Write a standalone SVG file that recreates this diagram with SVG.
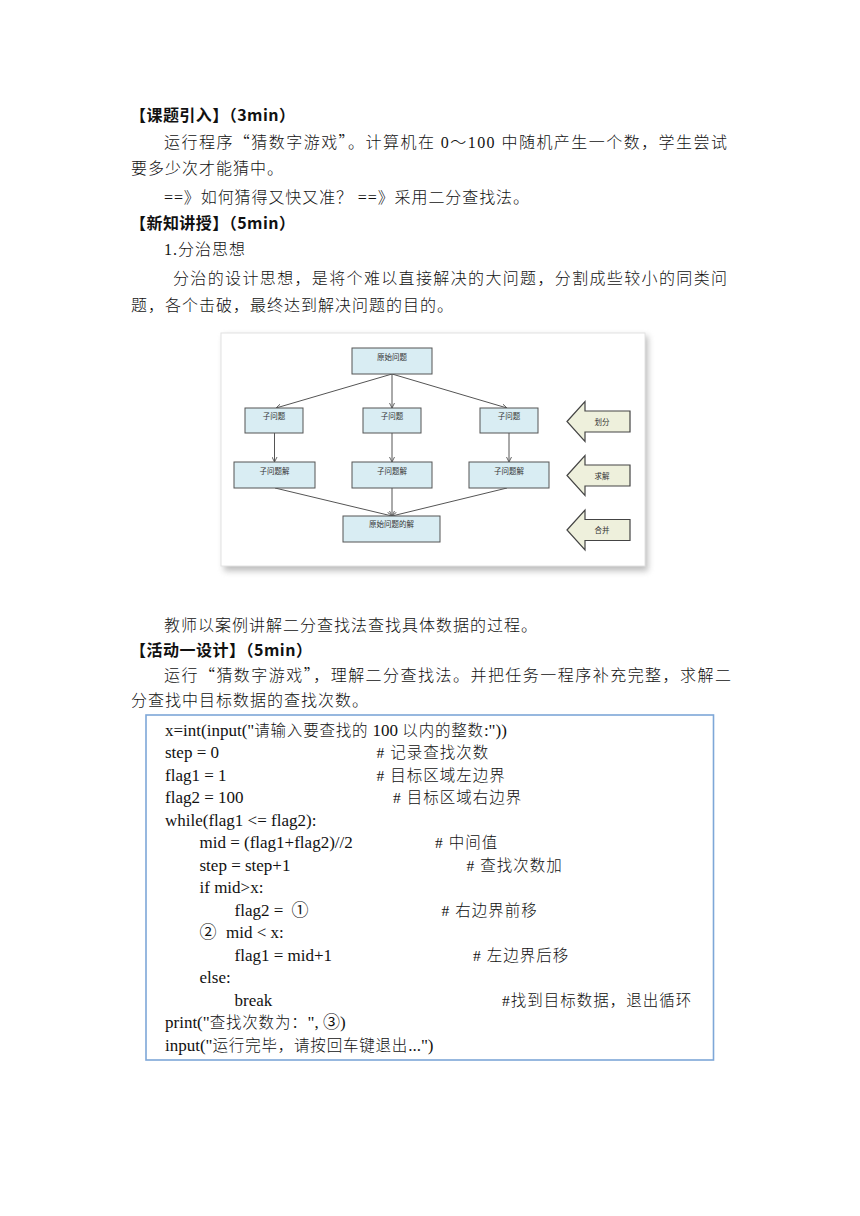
<svg xmlns="http://www.w3.org/2000/svg" width="860" height="1216" viewBox="0 0 860 1216">
<style>
.body{font-family:"Liberation Serif","Noto Sans CJK SC",serif;font-size:16px;font-weight:300;fill:#111;letter-spacing:1px}
.q{font-family:"Noto Sans CJK SC",sans-serif}
.head{font-family:"Noto Sans CJK SC",sans-serif;font-size:16px;font-weight:700;fill:#111}
.code{font-family:"Liberation Serif","Noto Sans CJK SC",serif;font-size:17px;fill:#111}
.cjk{font-size:15.5px;letter-spacing:0.8px;font-weight:300}
.cmt{font-family:"Liberation Serif","Noto Sans CJK SC",serif;font-size:15.5px;font-weight:300;fill:#111;letter-spacing:1px}
.box{fill:#d9edf3;stroke:#555;stroke-width:1}
.lbl{font-family:"Noto Sans CJK SC",sans-serif;font-size:7.5px;fill:#333;text-anchor:middle}
.arr{fill:#eef0dc;stroke:#444;stroke-width:1.2}
.conn{stroke:#555;stroke-width:1;fill:none;marker-end:url(#ah)}
</style>
<defs>
<marker id="ah" viewBox="0 0 8 8" refX="7" refY="4" markerWidth="6" markerHeight="6" orient="auto" markerUnits="userSpaceOnUse">
<path d="M0,0.5 L7,4 L0,7.5" fill="none" stroke="#555" stroke-width="1.2"/>
</marker>
<filter id="sh" x="-10%" y="-10%" width="130%" height="130%">
<feGaussianBlur stdDeviation="3"/>
</filter>
</defs>
<rect width="860" height="1216" fill="#fff"/>

<!-- page text -->
<text class="head" x="130" y="121" textLength="165" lengthAdjust="spacing">【课题引入】（3min）</text>
<text class="body" x="164" y="148" textLength="564" lengthAdjust="spacing">运行程序<tspan class="q">“</tspan>猜数字游戏<tspan class="q">”</tspan>。计算机在 0～100 中随机产生一个数，学生尝试</text>
<text class="body" x="131" y="174">要多少次才能猜中。</text>
<text class="body" x="164" y="203" textLength="366" lengthAdjust="spacing">==》如何猜得又快又准？ ==》采用二分查找法。</text>
<text class="head" x="130" y="229" textLength="165" lengthAdjust="spacing">【新知讲授】（5min）</text>
<text class="body" x="164" y="255">1.分治思想</text>
<text class="body" x="173" y="284" textLength="555" lengthAdjust="spacing">分治的设计思想，是将个难以直接解决的大问题，分割成些较小的同类问</text>
<text class="body" x="131" y="311">题，各个击破，最终达到解决问题的目的。</text>

<!-- divide and conquer figure -->
<g id="figure">
<rect x="224" y="336" width="424" height="235" fill="#888" opacity="0.55" filter="url(#sh)"/>
<rect x="221" y="333" width="424" height="233" fill="#fff" stroke="#e2e2e2" stroke-width="1"/>
</g>
<g id="connectors">
<line class="conn" x1="392" y1="374" x2="276" y2="408"/>
<line class="conn" x1="392" y1="374" x2="392" y2="408"/>
<line class="conn" x1="392" y1="374" x2="507" y2="408"/>
<line class="conn" x1="274.5" y1="433" x2="274.5" y2="462"/>
<line class="conn" x1="392" y1="433" x2="392" y2="462"/>
<line class="conn" x1="509" y1="433" x2="509" y2="462"/>
<line class="conn" x1="275" y1="488" x2="392" y2="516"/>
<line class="conn" x1="392" y1="488" x2="392" y2="516"/>
<line class="conn" x1="507" y1="488" x2="392" y2="516"/>
</g>
<g id="n-root"><rect class="box" x="352" y="348" width="80" height="26"/><text class="lbl" x="392" y="359.5">原始问题</text></g>
<g id="n-sub1"><rect class="box" x="245" y="408" width="58" height="25"/><text class="lbl" x="274" y="418.5">子问题</text></g>
<g id="n-sub2"><rect class="box" x="363" y="408" width="58" height="25"/><text class="lbl" x="392" y="418.5">子问题</text></g>
<g id="n-sub3"><rect class="box" x="480" y="408" width="58" height="25"/><text class="lbl" x="509" y="418.5">子问题</text></g>
<g id="n-sol1"><rect class="box" x="234" y="462" width="81" height="26"/><text class="lbl" x="274.5" y="473.5">子问题解</text></g>
<g id="n-sol2"><rect class="box" x="352" y="462" width="80" height="26"/><text class="lbl" x="392" y="473.5">子问题解</text></g>
<g id="n-sol3"><rect class="box" x="469" y="462" width="80" height="26"/><text class="lbl" x="509" y="473.5">子问题解</text></g>
<g id="n-final"><rect class="box" x="343" y="516" width="97" height="26"/><text class="lbl" x="391.5" y="527">原始问题的解</text></g>
<g id="a-divide"><polygon class="arr" points="567,421.5 585,401.5 585,411 630,411 630,432 585,432 585,441.5"/><text class="lbl" x="602" y="424.5">划分</text></g>
<g id="a-solve"><polygon class="arr" points="567,475.5 585,455.5 585,465 630,465 630,486 585,486 585,495.5"/><text class="lbl" x="602" y="478.5">求解</text></g>
<g id="a-merge"><polygon class="arr" points="567,530 585,510 585,519.5 630,519.5 630,540.5 585,540.5 585,550"/><text class="lbl" x="602" y="533">合并</text></g>

<text class="body" x="164" y="631">教师以案例讲解二分查找法查找具体数据的过程。</text>
<text class="head" x="130" y="656" textLength="182" lengthAdjust="spacing">【活动一设计】（5min）</text>
<text class="body" x="164" y="681" textLength="568" lengthAdjust="spacing">运行<tspan class="q">“</tspan>猜数字游戏<tspan class="q">”</tspan>，理解二分查找法。并把任务一程序补充完整，求解二</text>
<text class="body" x="131" y="706">分查找中目标数据的查找次数。</text>

<!-- code box -->
<g id="code">
<rect x="146" y="715" width="567.5" height="345" fill="#fff" stroke="#7ea7d8" stroke-width="1.6"/>
<text class="code" x="165" y="735.5">x=int(input("<tspan class="cjk">请输入要查找的</tspan> 100 <tspan class="cjk">以内的整数</tspan>:"))</text>
<text class="code" x="165" y="758">step = 0</text>
<text class="cmt" x="376.5" y="758"># 记录查找次数</text>
<text class="code" x="165" y="780.5">flag1 = 1</text>
<text class="cmt" x="376.5" y="780.5"># 目标区域左边界</text>
<text class="code" x="165" y="803">flag2 = 100</text>
<text class="cmt" x="393" y="803"># 目标区域右边界</text>
<text class="code" x="165" y="825.5">while(flag1 &lt;= flag2):</text>
<text class="code" x="199.5" y="848">mid = (flag1+flag2)//2</text>
<text class="cmt" x="435" y="848"># 中间值</text>
<text class="code" x="199.5" y="870.5">step = step+1</text>
<text class="cmt" x="466.5" y="870.5"># 查找次数加</text>
<text class="code" x="199.5" y="893">if mid&gt;x:</text>
<text class="code" x="234.5" y="915.5">flag2 =</text>
<text class="code" x="291.5" y="915.5">①</text>
<text class="cmt" x="441.5" y="915.5"># 右边界前移</text>
<text class="code" x="199.5" y="938">②</text>
<text class="code" x="226" y="938">mid &lt; x:</text>
<text class="code" x="234.5" y="960.5">flag1 = mid+1</text>
<text class="cmt" x="473" y="960.5"># 左边界后移</text>
<text class="code" x="199.5" y="983">else:</text>
<text class="code" x="234.5" y="1005.5">break</text>
<text class="cmt" x="502" y="1005.5">#找到目标数据，退出循环</text>
<text class="code" x="165" y="1028">print("<tspan class="cjk">查找次数为：</tspan>", ③)</text>
<text class="code" x="165" y="1050.5">input("<tspan class="cjk">运行完毕，请按回车键退出</tspan>...")</text>
</g>
</svg>
